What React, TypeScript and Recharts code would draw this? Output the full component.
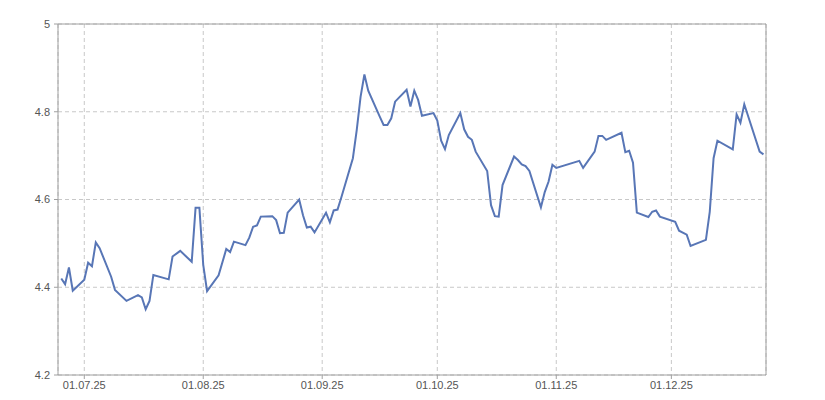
import { LineChart, Line, XAxis, YAxis, CartesianGrid, ReferenceLine } from 'recharts';

// daily rate points (Tue–Sat fixing days)
const dates = [
  '2025-06-25', '2025-06-26', '2025-06-27', '2025-06-28',
  '2025-07-01', '2025-07-02', '2025-07-03', '2025-07-04', '2025-07-05',
  '2025-07-08', '2025-07-09', '2025-07-12', '2025-07-15', '2025-07-16',
  '2025-07-17', '2025-07-18', '2025-07-19', '2025-07-23', '2025-07-24',
  '2025-07-26', '2025-07-29', '2025-07-30', '2025-07-31',
  '2025-08-01', '2025-08-02', '2025-08-05', '2025-08-07', '2025-08-08',
  '2025-08-09', '2025-08-12', '2025-08-13', '2025-08-14', '2025-08-15',
  '2025-08-16', '2025-08-19', '2025-08-20', '2025-08-21', '2025-08-22',
  '2025-08-23', '2025-08-26', '2025-08-27', '2025-08-28', '2025-08-29',
  '2025-08-30',
  '2025-09-02', '2025-09-03', '2025-09-04', '2025-09-05', '2025-09-06',
  '2025-09-09', '2025-09-10', '2025-09-11', '2025-09-12', '2025-09-13',
  '2025-09-16', '2025-09-17', '2025-09-18', '2025-09-19', '2025-09-20',
  '2025-09-23', '2025-09-24', '2025-09-25', '2025-09-26', '2025-09-27',
  '2025-09-30',
  '2025-10-01', '2025-10-02', '2025-10-03', '2025-10-04', '2025-10-07',
  '2025-10-08', '2025-10-09', '2025-10-10', '2025-10-11', '2025-10-14',
  '2025-10-15', '2025-10-16', '2025-10-17', '2025-10-18', '2025-10-21',
  '2025-10-22', '2025-10-23', '2025-10-24', '2025-10-25', '2025-10-28',
  '2025-10-29', '2025-10-30', '2025-10-31',
  '2025-11-01', '2025-11-07', '2025-11-08', '2025-11-11', '2025-11-12',
  '2025-11-13', '2025-11-14', '2025-11-18', '2025-11-19', '2025-11-20',
  '2025-11-21', '2025-11-22', '2025-11-25', '2025-11-26', '2025-11-27',
  '2025-11-28',
  '2025-12-02', '2025-12-03', '2025-12-05', '2025-12-06', '2025-12-10',
  '2025-12-11', '2025-12-12', '2025-12-13', '2025-12-17', '2025-12-18',
  '2025-12-19', '2025-12-20', '2025-12-24', '2025-12-25',
];

const rates = [
  4.420, 4.407, 4.445, 4.392,
  4.417, 4.456, 4.448, 4.502, 4.489,
  4.424, 4.394, 4.369, 4.382, 4.377,
  4.350, 4.369, 4.428, 4.418, 4.470,
  4.483, 4.458, 4.581, 4.581,
  4.451, 4.391, 4.427, 4.487, 4.480,
  4.504, 4.496, 4.513, 4.538, 4.541,
  4.561, 4.562, 4.553, 4.523, 4.524,
  4.570, 4.600, 4.564, 4.536, 4.538,
  4.525,
  4.570, 4.548, 4.575, 4.577, 4.605,
  4.694, 4.758, 4.834, 4.885, 4.848,
  4.789, 4.770, 4.770, 4.785, 4.823,
  4.850, 4.812, 4.848, 4.827, 4.791,
  4.797,
  4.780, 4.734, 4.715, 4.747, 4.797,
  4.760, 4.743, 4.736, 4.709, 4.665,
  4.587, 4.562, 4.561, 4.633, 4.698,
  4.690, 4.680, 4.676, 4.665, 4.582,
  4.617, 4.641, 4.679,
  4.672, 4.688, 4.672, 4.709, 4.745,
  4.745, 4.736, 4.752, 4.708, 4.711,
  4.684, 4.570, 4.560, 4.572, 4.575,
  4.561,
  4.549, 4.529, 4.520, 4.494, 4.508,
  4.572, 4.694, 4.734, 4.714, 4.794,
  4.775, 4.817, 4.709, 4.703,
];

const xTickDates = ['2025-07-01', '2025-08-01', '2025-09-01', '2025-10-01', '2025-11-01', '2025-12-01'];
const yTicks = [4.2, 4.4, 4.6, 4.8, 5];

const DAY = 86400000;
const toTs = (s: string) => Date.parse(s + 'T00:00:00Z');

const data = dates.map((d, i) => ({ ts: toTs(d), rate: rates[i] }));
const xTicks = xTickDates.map(toTs);
const xDomain = [toTs('2025-07-01') - 6.85 * DAY, toTs('2025-07-01') + 177.66 * DAY];

const pad = (n: number) => String(n).padStart(2, '0');
const fmtDate = (ts: number) => {
  const d = new Date(ts);
  return `${pad(d.getUTCDate())}.${pad(d.getUTCMonth() + 1)}.${String(d.getUTCFullYear()).slice(2)}`;
};

const tickStyle = { fill: '#555', fontSize: 11, fontFamily: 'Liberation Sans, Arial, sans-serif' };
const axisColor = '#a0a0a0';

export default function App() {
  return (
    <div style={{ position: 'absolute', left: 0, top: 0, width: 825, height: 400, background: '#fff' }}>
      <LineChart width={825} height={400} data={data} margin={{ top: 24, right: 0, bottom: 0, left: 0 }}>
        <CartesianGrid yAxisId="left" stroke="#c8c8c8" strokeDasharray="4 3" />
        <XAxis
          dataKey="ts"
          type="number"
          scale="time"
          domain={xDomain}
          ticks={xTicks}
          tickFormatter={fmtDate}
          height={25}
          stroke={axisColor}
          tickSize={4}
          tickMargin={2}
          tick={tickStyle}
          allowDataOverflow
        />
        <YAxis
          yAxisId="left"
          orientation="left"
          domain={[4.2, 5]}
          ticks={yTicks}
          width={58}
          stroke={axisColor}
          tickSize={4}
          tickMargin={4}
          tick={tickStyle}
          tickFormatter={(v: number) => String(v)}
        />
        <YAxis
          yAxisId="right"
          orientation="right"
          domain={[4.2, 5]}
          ticks={yTicks}
          width={59}
          stroke={axisColor}
          tickSize={4}
          tickMargin={3}
          tick={tickStyle}
          tickFormatter={(v: number) => String(v)}
        />
        <ReferenceLine yAxisId="left" y={5} stroke={axisColor} />
        <Line
          yAxisId="left"
          type="linear"
          dataKey="rate"
          stroke="#5876b6"
          strokeWidth={2}
          dot={false}
          isAnimationActive={false}
        />
      </LineChart>
    </div>
  );
}
